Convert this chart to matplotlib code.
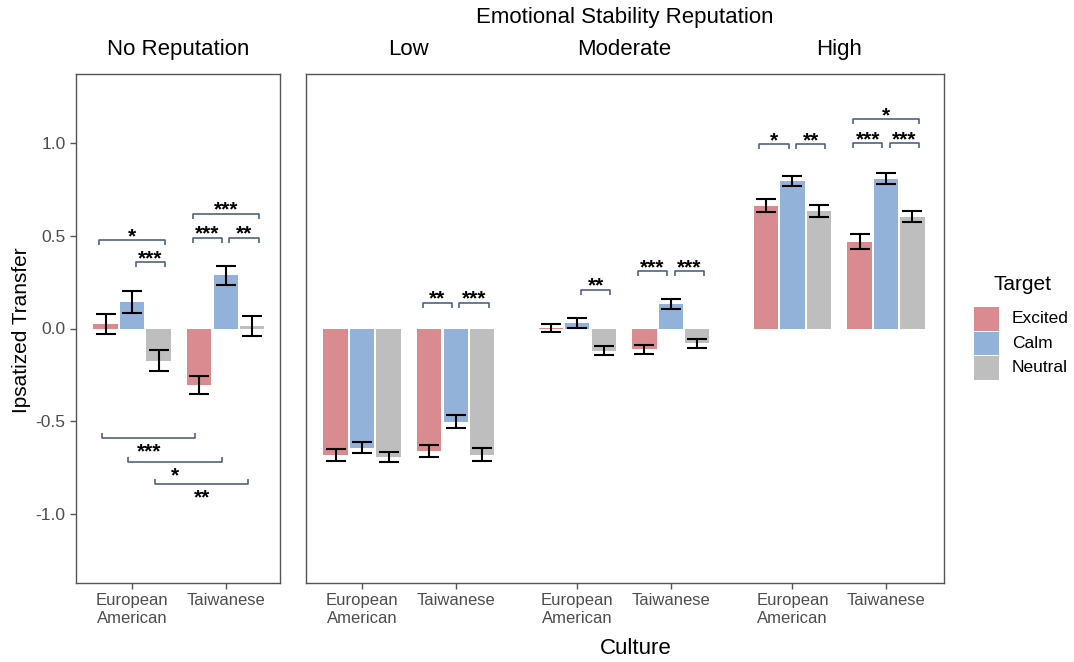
import matplotlib
matplotlib.use('Agg')
import matplotlib.pyplot as plt
from matplotlib.patches import Rectangle

plt.rcParams['font.family'] = ['Liberation Sans', 'DejaVu Sans']

# Conditions: reputation group x culture, in plotting order
groups = ['No Reputation', 'Low', 'Moderate', 'High']
cultures = ['European\nAmerican', 'Taiwanese']
targets = ['Excited', 'Calm', 'Neutral']

# Mean ipsatized transfer per condition (NR-EA, NR-TW, Low-EA, Low-TW, Mod-EA, Mod-TW, High-EA, High-TW)
excited_mean = [0.025, -0.305, -0.685, -0.660, 0.003, -0.113, 0.664, 0.470]
calm_mean = [0.143, 0.287, -0.645, -0.503, 0.030, 0.130, 0.795, 0.810]
neutral_mean = [-0.175, 0.013, -0.695, -0.683, -0.120, -0.080, 0.633, 0.605]

excited_se = [0.056, 0.050, 0.033, 0.033, 0.023, 0.026, 0.033, 0.038]
calm_se = [0.057, 0.050, 0.030, 0.033, 0.025, 0.027, 0.027, 0.032]
neutral_se = [0.057, 0.052, 0.027, 0.035, 0.025, 0.025, 0.032, 0.032]

# Pairwise comparisons: (condition a, target a, condition b, target b, bracket height, label)
comparisons = [
    (0, 0, 0, 2, 0.476, '*'),
    (0, 1, 0, 2, 0.360, '***'),
    (1, 0, 1, 1, 0.490, '***'),
    (1, 1, 1, 2, 0.490, '**'),
    (1, 0, 1, 2, 0.620, '***'),
    (0, 0, 1, 0, -0.590, '***'),
    (0, 1, 1, 1, -0.720, '*'),
    (0, 2, 1, 2, -0.840, '**'),
    (3, 0, 3, 1, 0.140, '**'),
    (3, 1, 3, 2, 0.140, '***'),
    (4, 1, 4, 2, 0.210, '**'),
    (5, 0, 5, 1, 0.310, '***'),
    (5, 1, 5, 2, 0.310, '***'),
    (6, 0, 6, 1, 0.995, '*'),
    (6, 1, 6, 2, 0.995, '**'),
    (7, 0, 7, 1, 1.000, '***'),
    (7, 1, 7, 2, 1.000, '***'),
    (7, 0, 7, 2, 1.130, '*'),
]

colours = ['#D98B8F', '#93B2DA', '#BEBEBE']
bracket_colour = '#44557A'
tick_grey = '#4D4D4D'
spine_grey = '#555555'

means = [excited_mean, calm_mean, neutral_mean]
ses = [excited_se, calm_se, neutral_se]

# x positions of the culture slots on each panel
slot_x = [1.0, 2.0, 1.0, 2.0, 3.3, 4.3, 5.6, 6.6]
slot_axis = [0, 0, 1, 1, 1, 1, 1, 1]
offsets = [-0.283, 0.0, 0.283]
bar_w = 0.26

fig = plt.figure(figsize=(10.74, 6.62), dpi=100)
W, H = 1074, 662
ax_nr = fig.add_axes([76 / W, 79 / H, 204 / W, 509 / H])
ax_es = fig.add_axes([306 / W, 79 / H, 638 / W, 509 / H])
axes = [ax_nr, ax_es]

for t in range(3):
    for c in range(8):
        ax = axes[slot_axis[c]]
        x = slot_x[c] + offsets[t]
        ax.bar(x, means[t][c], width=bar_w, color=colours[t], linewidth=0)
        ax.errorbar(x, means[t][c], yerr=ses[t][c], fmt='none', ecolor='black',
                    elinewidth=1.5, capsize=7, capthick=1.5)


def bar_centre(c, t):
    return slot_x[c] + offsets[t]


for ca, ta, cb, tb, yb, label in comparisons:
    ax = axes[slot_axis[ca]]
    x1, x2 = bar_centre(ca, ta), bar_centre(cb, tb)
    if ca == cb:
        x1 = x1 + 0.04 if ta == 1 else x1 - 0.07
        x2 = x2 - 0.04 if tb == 1 else x2 + 0.07
    else:
        x1 -= 0.04
        x2 -= 0.04
    tip = 0.027 if yb > 0 else -0.027
    ax.plot([x1, x1, x2, x2], [yb - tip, yb, yb, yb - tip], color=bracket_colour,
            linewidth=1.1, solid_capstyle='butt')
    dy = 2.5 if yb > 0 else -10.0
    ax.annotate(label, ((x1 + x2) / 2, yb), xytext=(0, dy), textcoords='offset points',
                ha='center', va='center', fontsize=15, fontweight='bold', color='black')

for ax in axes:
    ax.set_ylim(-1.375, 1.375)
    for s in ax.spines.values():
        s.set_color(spine_grey)
        s.set_linewidth(1.0)
    ax.tick_params(axis='both', colors=spine_grey, length=4, width=1,
                   labelcolor=tick_grey, labelsize=12)

ax_nr.set_xlim(0.40, 2.58)
ax_nr.set_xticks(slot_x[:2])
ax_nr.set_xticklabels(cultures)
ax_nr.set_yticks([-1.0, -0.5, 0.0, 0.5, 1.0])
ax_nr.set_yticklabels(['-1.0', '-0.5', '0.0', '0.5', '1.0'])
ax_nr.tick_params(axis='y', labelsize=12.5)

ax_es.set_xlim(0.40, 7.22)
ax_es.set_xticks(slot_x[2:])
ax_es.set_xticklabels(cultures * 3)
ax_es.set_yticks([])

# Panel strip titles
ax_nr.text(0.5, 1.027, groups[0], transform=ax_nr.transAxes, ha='center', va='bottom',
           fontsize=16)
for k, name in enumerate(groups[1:]):
    xc = (slot_x[2 + 2 * k] + slot_x[3 + 2 * k]) / 2
    ax_es.text(xc, 1.027, name, transform=ax_es.get_xaxis_transform(), ha='center',
               va='bottom', fontsize=16)

fig.text(625 / W, 1 - 18 / H, 'Emotional Stability Reputation', ha='center', va='center',
         fontsize=16)
fig.text(636 / W, 1 - 648 / H, 'Culture', ha='center', va='center', fontsize=16)
fig.text(22 / W, 1 - 330 / H, 'Ipsatized Transfer', ha='center', va='center',
         rotation=90, fontsize=15)

# Legend, laid out in figure pixels
fig.text(1022 / W, 1 - 284 / H, 'Target', ha='center', va='center', fontsize=15)
for i, name in enumerate(targets):
    top = 307 + i * 24.5
    fig.add_artist(Rectangle((974 / W, 1 - (top + 23.5) / H), 25 / W, 23.5 / H,
                             transform=fig.transFigure, facecolor=colours[i],
                             edgecolor='none'))
    fig.text(1012 / W, 1 - (top + 12) / H, name, ha='left', va='center', fontsize=12.5)

fig.savefig('out.png', dpi=100)
